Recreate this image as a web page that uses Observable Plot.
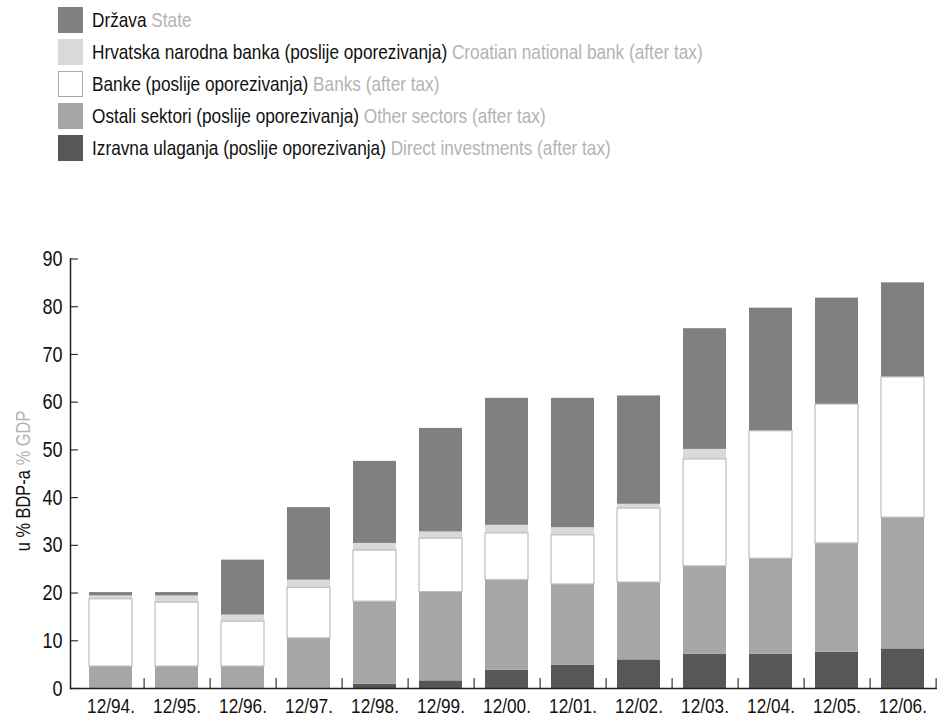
<!DOCTYPE html>
<html>
<head>
<meta charset="utf-8">
<script src="https://cdn.jsdelivr.net/npm/d3@7"></script>
<script src="https://cdn.jsdelivr.net/npm/@observablehq/plot@0.6"></script>
<style>
  body { margin: 0; background: #fff; font-family: "Liberation Sans", Arial, sans-serif; }
  #legend { position: relative; height: 200px; }
  .row { position: absolute; left: 58px; height: 26px; display: flex; align-items: center; font-size: 21px; white-space: nowrap; color: #111; }
  .sw { width: 25px; height: 26px; box-sizing: border-box; margin-right: 9px; flex: none; }
  .txt { display: inline-block; transform: scaleX(0.82); transform-origin: 0 50%; }
  .en { color: #b3b3b3; }
  #chart svg { display: block; }
</style>
</head>
<body>
<div id="legend"></div>
<div id="chart"></div>
<script>
// ---- data ----
const categories = ["12/94.", "12/95.", "12/96.", "12/97.", "12/98.", "12/99.", "12/00.", "12/01.", "12/02.", "12/03.", "12/04.", "12/05.", "12/06."];
const directInvestments = [0, 0, 0, 0, 0.9, 1.6, 3.8, 4.9, 6.0, 7.2, 7.2, 7.6, 8.3];
const otherSectors      = [4.6, 4.6, 4.6, 10.5, 17.3, 18.6, 18.9, 16.9, 16.2, 18.4, 20.0, 22.8, 27.5];
const banks             = [14.1, 13.4, 9.4, 10.6, 10.7, 11.2, 9.8, 10.3, 15.5, 22.4, 26.7, 29.1, 29.4];
const nationalBank      = [0.7, 1.4, 1.4, 1.6, 1.5, 1.4, 1.7, 1.6, 0.9, 2.1, 0, 0, 0];
const state             = [0.7, 0.7, 11.5, 15.2, 17.2, 21.7, 26.6, 27.1, 22.7, 25.3, 25.8, 22.3, 19.8];
const yTicks = [0, 10, 20, 30, 40, 50, 60, 70, 80, 90];

// series, bottom to top
const seriesNames = ["Izravna ulaganja", "Ostali sektori", "Banke", "Hrvatska narodna banka", "Država"];
const seriesColors = ["#575757", "#a6a6a6", "#ffffff", "#d9d9d9", "#808080"];
const seriesValues = [directInvestments, otherSectors, banks, nationalBank, state];

// legend, top to bottom
const legendHr = ["Država", "Hrvatska narodna banka (poslije oporezivanja)", "Banke (poslije oporezivanja)", "Ostali sektori (poslije oporezivanja)", "Izravna ulaganja (poslije oporezivanja)"];
const legendEn = ["State", "Croatian national bank (after tax)", "Banks (after tax)", "Other sectors (after tax)", "Direct investments (after tax)"];
const legendColors = ["#808080", "#d9d9d9", "#ffffff", "#a6a6a6", "#575757"];

const axisLabelHr = "u % BDP-a";
const axisLabelEn = "% GDP";

// ---- legend ----
const legend = document.getElementById("legend");
legendHr.forEach((t, i) => {
  const row = document.createElement("div");
  row.className = "row";
  row.style.top = (7 + 32 * i) + "px";
  const sw = document.createElement("div");
  sw.className = "sw";
  sw.style.background = legendColors[i];
  if (legendColors[i] === "#ffffff") sw.style.border = "1px solid #aaa";
  row.appendChild(sw);
  const wrap = document.createElement("span");
  wrap.className = "txt";
  const a = document.createElement("span");
  a.textContent = t + "\u00a0";
  wrap.appendChild(a);
  const b = document.createElement("span");
  b.className = "en";
  b.textContent = legendEn[i];
  wrap.appendChild(b);
  row.appendChild(wrap);
  legend.appendChild(row);
});

// ---- chart ----
const data = seriesNames.flatMap((s, i) => categories.map((c, j) => ({cat: c, series: s, value: seriesValues[i][j]})));

const W = 937, H = 518, ML = 70, MR = 0, MT = 58.5, MB = 30;
const pInner = 0.351, pOuter = 0.219;
const step = (W - ML - MR) / (categories.length - pInner + 2 * pOuter);
const frameW = W - ML - MR, frameH = H - MT - MB;
const font = '"Liberation Sans", Arial, sans-serif';

const chart = Plot.plot({
  width: W,
  height: H,
  marginLeft: ML,
  marginRight: MR,
  marginTop: MT,
  marginBottom: MB,
  style: {fontFamily: font, background: "#fff", color: "#111"},
  x: {domain: categories, paddingInner: pInner, paddingOuter: pOuter, align: 0.586, label: null},
  y: {domain: [0, 90], label: null},
  color: {domain: seriesNames, range: seriesColors},
  marks: [
    Plot.barY(data, {x: "cat", y: "value", z: "series", fill: "series"}),
    Plot.barY(data, {x: "cat", y: "value", z: "series", fill: "none", stroke: "#bdbdbd", strokeWidth: 1.2,
      strokeOpacity: d => d.series === "Banke" ? 1 : 0}),
    // inward tick marks
    Plot.tickY(yTicks, {y: d => d, insetRight: frameW - 8, stroke: "#333", strokeWidth: 1.2}),
    Plot.tickX(categories, {x: d => d, dx: step / 2, insetTop: frameH - 10, stroke: "#333", strokeWidth: 1.2}),
    Plot.ruleY([0], {stroke: "#222", strokeWidth: 1.5}),
    Plot.frame({anchor: "left", stroke: "#222", strokeWidth: 1.5}),
    Plot.axisY({ticks: yTicks, tickSize: 0, tickPadding: 8, fontSize: 22, label: null}),
    Plot.axisX({tickSize: 0, tickPadding: 10, fontSize: 21, label: null}),
    Plot.text([axisLabelHr], {frameAnchor: "left", text: d => d, rotate: -90, textAnchor: "end", dx: -47, dy: -3.5, fontSize: 20, fill: "#111"}),
    Plot.text([axisLabelEn], {frameAnchor: "left", text: d => d, rotate: -90, textAnchor: "start", dx: -47, dy: -8.5, fontSize: 20, fill: "#b3b3b3"})
  ]
});
// condense the text horizontally (narrow typeface look)
d3.select(chart).selectAll("text").each(function() {
  const t = this.getAttribute("transform");
  if (t) this.setAttribute("transform", t + " scale(0.82,1)");
});
document.getElementById("chart").appendChild(chart);
</script>
</body>
</html>
